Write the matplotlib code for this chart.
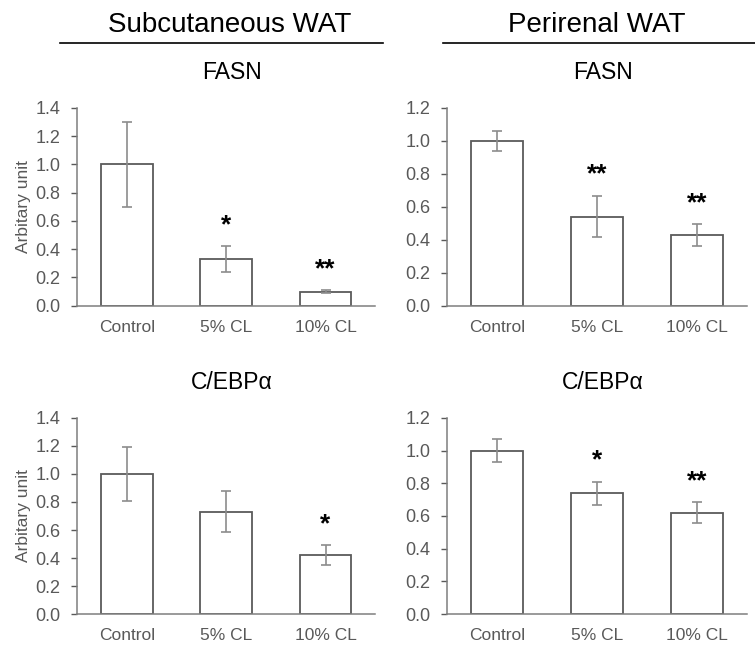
import numpy as np
import matplotlib
matplotlib.use("Agg")
import matplotlib.pyplot as plt

plt.rcParams.update({
    "font.family": ["Liberation Sans", "DejaVu Sans"],
    "axes.spines.right": False,
    "axes.spines.top": False,
})

groups = ["Control", "5% CL", "10% CL"]

# subcutaneous WAT
sc_fasn = [1.00, 0.33, 0.10]
sc_fasn_err = [0.30, 0.09, 0.01]
sc_fasn_sig = ["", "*", "**"]
sc_cebpa = [1.00, 0.73, 0.42]
sc_cebpa_err = [0.195, 0.145, 0.07]
sc_cebpa_sig = ["", "", "*"]

# perirenal WAT
pr_fasn = [1.00, 0.54, 0.43]
pr_fasn_err = [0.06, 0.125, 0.065]
pr_fasn_sig = ["", "**", "**"]
pr_cebpa = [1.00, 0.74, 0.62]
pr_cebpa_err = [0.07, 0.07, 0.065]
pr_cebpa_sig = ["", "*", "**"]

grey = "#595959"
edge = "#5a5a5a"

fig = plt.figure(figsize=(7.55, 6.45), dpi=100)


def panel(rect, vals, errs, sigs, ymax, title, ylabel=None):
    ax = fig.add_axes(rect)
    x = np.arange(len(groups))
    ax.bar(x, vals, width=0.52, color="white", edgecolor=edge, linewidth=1.3, zorder=2)
    ax.errorbar(x, vals, yerr=errs, fmt="none", ecolor="#8c8c8c", elinewidth=1.2,
                capsize=3.5, capthick=1.2, zorder=3)
    span = ymax / 1.4
    for xi, v, e, s in zip(x, vals, errs, sigs):
        if s:
            ax.text(xi, v + e + 0.15 * span, s, ha="center", va="center",
                    fontsize=19, fontweight="bold", color="black")
    ax.set_xlim(-0.5, 2.5)
    ax.set_ylim(0, ymax)
    ticks = np.arange(0, ymax + 0.01, 0.2)
    ax.set_yticks(ticks)
    ax.set_yticklabels([f"{t:.1f}" for t in ticks])
    ax.set_xticks(x)
    ax.set_xticklabels(groups)
    ax.tick_params(axis="x", length=0, pad=10, labelsize=12.5, colors=grey)
    ax.tick_params(axis="y", length=4, width=1, pad=8, labelsize=13, colors=grey)
    for sp in ("left", "bottom"):
        ax.spines[sp].set_color("#7f7f7f")
        ax.spines[sp].set_linewidth(1.1)
    if ylabel:
        ax.set_ylabel(ylabel, fontsize=12.5, color=grey, labelpad=3)
    top = rect[1] + rect[3]
    fig.text(rect[0] + rect[2] / 2 + 0.008, top + 0.055, title, ha="center",
             va="center", fontsize=16.5)
    return ax


panel([0.102, 0.526, 0.395, 0.307], sc_fasn, sc_fasn_err, sc_fasn_sig, 1.4, "FASN",
      "Arbitary unit")
panel([0.592, 0.526, 0.397, 0.307], pr_fasn, pr_fasn_err, pr_fasn_sig, 1.2, "FASN")
panel([0.102, 0.048, 0.395, 0.304], sc_cebpa, sc_cebpa_err, sc_cebpa_sig, 1.4,
      "C/EBPα", "Arbitary unit")
panel([0.592, 0.048, 0.397, 0.304], pr_cebpa, pr_cebpa_err, pr_cebpa_sig, 1.2,
      "C/EBPα")

# tissue headers with rule underneath
fig.text(230 / 755, 1 - 25 / 645, "Subcutaneous WAT", ha="center", va="center", fontsize=20)
fig.text(597 / 755, 1 - 25 / 645, "Perirenal WAT", ha="center", va="center", fontsize=20)
fig.add_artist(plt.Line2D([60 / 755, 383 / 755], [1 - 43 / 645] * 2, color="black", lw=1.2))
fig.add_artist(plt.Line2D([443 / 755, 755 / 755], [1 - 43 / 645] * 2, color="black", lw=1.2))

fig.savefig("out.png", dpi=100)
